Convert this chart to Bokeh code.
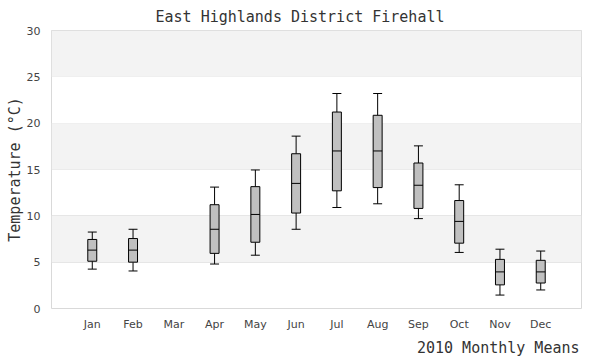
from bokeh.plotting import figure
from bokeh.models import Range1d, FixedTicker, BoxAnnotation, Title, ColumnDataSource
from bokeh.embed import file_html
from bokeh.resources import INLINE

months = ["Jan", "Feb", "Mar", "Apr", "May", "Jun", "Jul", "Aug", "Sep", "Oct", "Nov", "Dec"]
whisker_low = [4.25, 4.05, None, 4.8, 5.75, 8.55, 10.9, 11.3, 9.7, 6.05, 1.45, 2.0]
q1 = [5.1, 5.0, None, 5.95, 7.15, 10.3, 12.7, 13.05, 10.8, 7.05, 2.55, 2.75]
median = [6.3, 6.3, None, 8.55, 10.15, 13.5, 17.0, 17.0, 13.3, 9.4, 3.95, 3.95]
q3 = [7.45, 7.55, None, 11.2, 13.15, 16.7, 21.2, 20.85, 15.7, 11.65, 5.3, 5.2]
whisker_high = [8.25, 8.55, None, 13.1, 14.95, 18.6, 23.2, 23.2, 17.55, 13.35, 6.4, 6.2]
y_ticks = [0, 5, 10, 15, 20, 25, 30]
band_edges = [(5, 10), (15, 20), (25, 30)]

box_w = 0.22
idx = [i for i in range(12) if median[i] is not None]
src = ColumnDataSource(dict(
    x=[i + 1 for i in idx],
    lo=[whisker_low[i] for i in idx],
    q1=[q1[i] for i in idx],
    med=[median[i] for i in idx],
    q3=[q3[i] for i in idx],
    hi=[whisker_high[i] for i in idx],
    xl=[i + 1 - box_w / 2 for i in idx],
    xr=[i + 1 + box_w / 2 for i in idx],
))

p = figure(width=600, height=360, output_backend="svg", toolbar_location=None,
           x_range=Range1d(0, 13), y_range=Range1d(0, 30),
           min_border_left=51, min_border_right=19, min_border_top=30, min_border_bottom=50,
           background_fill_color="white", border_fill_color="white")

p.title.text = "East Highlands District Firehall"
p.title.align = "left"
p.title.offset = 104
p.title.text_font = "DejaVu Sans Mono"
p.title.text_font_size = "15px"
p.title.text_font_style = "normal"
p.title.text_color = "#333333"

for b, t in band_edges:
    p.add_layout(BoxAnnotation(bottom=b, top=t, fill_color="#f3f3f3", fill_alpha=1, line_color=None, level="underlay"))

p.outline_line_color = "#d9d9d9"
p.xgrid.grid_line_color = None
p.ygrid.grid_line_color = "#e2e2e2"
p.ygrid.ticker = FixedTicker(ticks=y_ticks)

p.yaxis.ticker = FixedTicker(ticks=y_ticks)
p.xaxis.ticker = FixedTicker(ticks=list(range(1, 13)))
p.xaxis.major_label_overrides = {i + 1: m for i, m in enumerate(months)}
for ax in (p.xaxis, p.yaxis):
    ax.axis_line_color = None
    ax.major_tick_line_color = None
    ax.minor_tick_line_color = None
    ax.major_tick_out = 0
    ax.major_tick_in = 0
    ax.minor_tick_out = 0
    ax.minor_tick_in = 0
    ax.major_label_text_font = "DejaVu Sans"
    ax.major_label_text_font_size = "11px"
    ax.major_label_text_color = "#444444"
p.yaxis.major_label_standoff = 11
p.xaxis.major_label_standoff = 9
p.yaxis.axis_label = "Temperature (°C)"
p.yaxis.axis_label_text_font = "DejaVu Sans Mono"
p.yaxis.axis_label_text_font_size = "15px"
p.yaxis.axis_label_text_font_style = "normal"
p.yaxis.axis_label_text_color = "#333333"
p.yaxis.axis_label_standoff = 0

p.add_layout(Title(text="2010 Monthly Means", align="right", offset=2, standoff=7,
                   text_font="DejaVu Sans Mono", text_font_size="15px",
                   text_font_style="normal", text_color="#333333"), "below")

p.segment(x0="x", y0="q3", x1="x", y1="hi", source=src, line_color="black", line_width=1)
p.segment(x0="x", y0="lo", x1="x", y1="q1", source=src, line_color="black", line_width=1)
p.segment(x0="xl", y0="hi", x1="xr", y1="hi", source=src, line_color="black", line_width=1)
p.segment(x0="xl", y0="lo", x1="xr", y1="lo", source=src, line_color="black", line_width=1)
p.vbar(x="x", width=box_w, bottom="q1", top="q3", source=src, fill_color="#c0c0c0", line_color="black", line_width=1)
p.segment(x0="xl", y0="med", x1="xr", y1="med", source=src, line_color="black", line_width=1)

open("out.html", "w").write(file_html(p, INLINE))
